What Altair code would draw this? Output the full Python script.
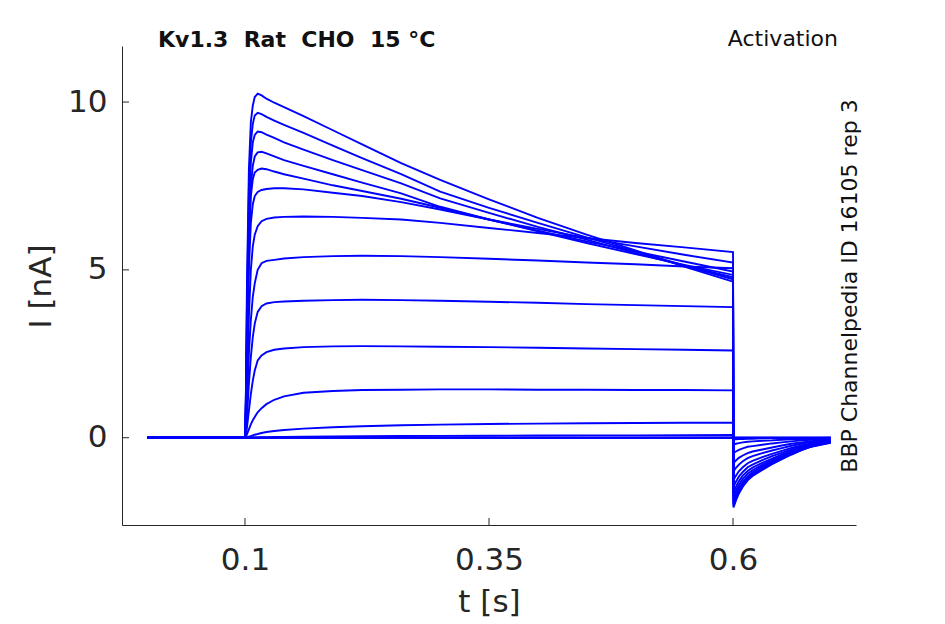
import altair as alt
import pandas as pd

# time points (s)
T = [0.0,
     0.1, 0.101, 0.102, 0.104, 0.106, 0.108, 0.11, 0.113, 0.117, 0.122, 0.13, 0.14,
     0.16, 0.19, 0.22, 0.26, 0.3, 0.35, 0.4, 0.45, 0.5, 0.55, 0.6,
     0.6005, 0.603, 0.606, 0.61, 0.615, 0.62, 0.63, 0.64, 0.65, 0.66, 0.67, 0.68, 0.69, 0.7]

# current traces (nA), one per voltage step
tr_a = [0, 0, 1.5, 4.5, 8.0, 9.4, 9.9, 10.15, 10.25, 10.2, 10.1, 9.98, 9.85, 9.58, 9.16, 8.74, 8.18, 7.68, 7.1, 6.55, 6.05, 5.58, 5.1, 4.65,
        -2.08, -1.87, -1.66, -1.46, -1.27, -1.14, -0.96, -0.79, -0.64, -0.5, -0.37, -0.27, -0.21, -0.15]
tr_b = [0, 0, 1.3, 4.0, 7.4, 8.8, 9.35, 9.6, 9.68, 9.64, 9.56, 9.45, 9.32, 9.08, 8.7, 8.33, 7.85, 7.33, 6.85, 6.4, 5.97, 5.55, 5.13, 4.72,
        -2.03, -1.83, -1.62, -1.42, -1.24, -1.12, -0.93, -0.77, -0.63, -0.49, -0.37, -0.26, -0.2, -0.14]
tr_c = [0, 0, 1.1, 3.5, 6.8, 8.2, 8.8, 9.02, 9.12, 9.1, 9.03, 8.93, 8.8, 8.58, 8.27, 7.97, 7.58, 7.13, 6.7, 6.28, 5.9, 5.5, 5.13, 4.78,
        -1.97, -1.77, -1.58, -1.38, -1.2, -1.08, -0.91, -0.75, -0.61, -0.47, -0.35, -0.26, -0.2, -0.14]
tr_d = [0, 0, 0.9, 3.0, 6.0, 7.5, 8.1, 8.38, 8.5, 8.52, 8.47, 8.38, 8.27, 8.1, 7.85, 7.6, 7.28, 6.88, 6.5, 6.15, 5.8, 5.47, 5.15, 4.85,
        -1.88, -1.69, -1.5, -1.32, -1.15, -1.03, -0.86, -0.71, -0.58, -0.45, -0.34, -0.24, -0.19, -0.13]
tr_e = [0, 0, 0.8, 2.8, 5.8, 7.2, 7.7, 7.9, 7.98, 8.02, 8.0, 7.93, 7.85, 7.72, 7.52, 7.35, 7.12, 6.85, 6.5, 6.17, 5.85, 5.55, 5.25, 4.95,
        -1.76, -1.58, -1.41, -1.23, -1.07, -0.97, -0.81, -0.67, -0.55, -0.42, -0.32, -0.23, -0.18, -0.12]
tr_f = [0, 0, 0.6, 2.2, 5.0, 6.4, 6.95, 7.2, 7.32, 7.38, 7.41, 7.43, 7.43, 7.4, 7.3, 7.2, 7.02, 6.8, 6.5, 6.22, 5.95, 5.7, 5.45, 5.22,
        -1.62, -1.46, -1.3, -1.13, -0.99, -0.89, -0.75, -0.62, -0.5, -0.39, -0.29, -0.21, -0.16, -0.11]
tr_g = [0, 0, 0.4, 1.5, 3.6, 5.0, 5.7, 6.05, 6.3, 6.45, 6.52, 6.56, 6.58, 6.59, 6.58, 6.55, 6.5, 6.4, 6.25, 6.1, 5.95, 5.8, 5.67, 5.53,
        -1.45, -1.31, -1.16, -1.02, -0.88, -0.8, -0.67, -0.55, -0.45, -0.35, -0.26, -0.19, -0.15, -0.1]
tr_h = [0, 0, 0.3, 1.0, 2.5, 3.5, 4.2, 4.6, 5.0, 5.2, 5.27, 5.3, 5.34, 5.38, 5.41, 5.42, 5.41, 5.38, 5.33, 5.28, 5.22, 5.17, 5.1, 5.05,
        -1.25, -1.13, -1.0, -0.88, -0.76, -0.69, -0.58, -0.48, -0.39, -0.3, -0.23, -0.16, -0.13, -0.09]
tr_i = [0, 0, 0.2, 0.6, 1.6, 2.4, 3.0, 3.4, 3.75, 3.92, 4.0, 4.04, 4.06, 4.08, 4.1, 4.11, 4.1, 4.08, 4.05, 4.02, 3.98, 3.95, 3.92, 3.89,
        -1.0, -0.9, -0.8, -0.7, -0.61, -0.55, -0.46, -0.38, -0.31, -0.24, -0.18, -0.13, -0.1, -0.07]
tr_j = [0, 0, 0.1, 0.3, 0.8, 1.3, 1.7, 2.0, 2.3, 2.45, 2.55, 2.62, 2.66, 2.7, 2.72, 2.73, 2.72, 2.71, 2.7, 2.68, 2.66, 2.64, 2.62, 2.6,
        -0.75, -0.68, -0.6, -0.53, -0.46, -0.41, -0.35, -0.29, -0.23, -0.18, -0.14, -0.1, -0.08, -0.05]
tr_k = [0, 0, 0.03, 0.1, 0.25, 0.4, 0.52, 0.62, 0.76, 0.88, 1.0, 1.13, 1.23, 1.34, 1.39, 1.42, 1.43, 1.44, 1.44, 1.43, 1.43, 1.42, 1.42, 1.41,
        -0.45, -0.41, -0.36, -0.32, -0.27, -0.25, -0.21, -0.17, -0.14, -0.11, -0.08, -0.06, -0.05, -0.03]
tr_l = [0, 0, 0.005, 0.01, 0.03, 0.05, 0.07, 0.09, 0.11, 0.14, 0.17, 0.2, 0.23, 0.27, 0.31, 0.34, 0.37, 0.39, 0.41, 0.42, 0.43, 0.44, 0.445, 0.45,
        -0.2, -0.18, -0.16, -0.14, -0.12, -0.11, -0.09, -0.08, -0.06, -0.05, -0.04, -0.03, -0.02, -0.01]
tr_m = [0, 0, 0, 0, 0.002, 0.004, 0.006, 0.008, 0.01, 0.012, 0.015, 0.02, 0.025, 0.03, 0.04, 0.045, 0.05, 0.055, 0.06, 0.065, 0.07, 0.07, 0.075, 0.08,
        -0.05, -0.05, -0.04, -0.04, -0.03, -0.03, -0.02, -0.02, -0.02, -0.01, -0.01, -0.01, -0.01, 0]
tr_n = [0] * 38
tr_o = [0] * 38
tr_p = [0] * 38

TRACES = [tr_p, tr_o, tr_n, tr_m, tr_l, tr_k, tr_j, tr_i, tr_h, tr_g, tr_f, tr_e, tr_d, tr_c, tr_b, tr_a]

X_TICKS = [0.1, 0.35, 0.6]
Y_TICKS = [0, 5, 10]

TITLE = "Kv1.3\u00a0 Rat\u00a0 CHO\u00a0 15 °C"
PROTOCOL = "Activation"
SOURCE = "BBP Channelpedia ID 16105 rep 3"

rows = []
for k, tr in enumerate(TRACES):
    for i, (t, v) in enumerate(zip(T, tr)):
        rows.append({"trace": k, "idx": i, "t": t, "I": v})
df = pd.DataFrame(rows)

W, H = 734, 479
TXT = "#262626"
FONT = "DejaVu Sans"

xscale = alt.Scale(domain=[-0.026, 0.726], nice=False, zero=False)
yscale = alt.Scale(domain=[-2.6, 11.67], nice=False, zero=False)

lines = alt.Chart(df).mark_line(color="#0000ff", strokeWidth=1.9, clip=True).encode(
    x=alt.X("t:Q", scale=xscale,
            axis=alt.Axis(values=X_TICKS, format="~g", title="t [s]", grid=False,
                          ticks=False, labelPadding=20, labelFontSize=31, labelFont=FONT,
                          labelColor=TXT, titleFontSize=31, titleFont=FONT, titleColor=TXT,
                          titleFontWeight="normal", titleBaseline="alphabetic", titleY=86,
                          domainColor=TXT, labelFlush=False)),
    y=alt.Y("I:Q", scale=yscale,
            axis=alt.Axis(values=Y_TICKS, title="I [nA]", grid=False,
                          ticks=False, labelPadding=15, labelFontSize=31, labelFont=FONT,
                          labelColor=TXT, titleFontSize=31, titleFont=FONT, titleColor=TXT,
                          titleFontWeight="normal", titleBaseline="alphabetic",
                          titleX=-72, titleY=240, titleAngle=270,
                          domainColor=TXT, labelFlush=False)),
    detail="trace:N",
    order="idx:Q",
)

xt = alt.Chart(pd.DataFrame({"v": X_TICKS})).mark_rule(color=TXT, strokeWidth=1).encode(
    x=alt.X("v:Q", scale=xscale), y=alt.value(H), y2=alt.value(H - 7))
yt = alt.Chart(pd.DataFrame({"v": Y_TICKS})).mark_rule(color=TXT, strokeWidth=1).encode(
    y=alt.Y("v:Q", scale=yscale), x=alt.value(0), x2=alt.value(7))

ann = pd.DataFrame({"a": [TITLE], "b": [PROTOCOL], "c": [SOURCE]})
t1 = alt.Chart(ann).mark_text(font=FONT, fontSize=22, fontWeight="bold", color="#111",
                              align="left", baseline="alphabetic").encode(
    text="a:N", x=alt.value(36), y=alt.value(1))
t2 = alt.Chart(ann).mark_text(font=FONT, fontSize=22, color="#111",
                              align="right", baseline="alphabetic").encode(
    text="b:N", x=alt.value(716), y=alt.value(0))
t3 = alt.Chart(ann).mark_text(font=FONT, fontSize=22, color="#111", angle=270,
                              align="center", baseline="middle").encode(
    text="c:N", x=alt.value(728), y=alt.value(240))

chart = alt.layer(lines, xt, yt, t1, t2, t3).properties(
    width=W, height=H,
    autosize=alt.AutoSizeParams(type="none"),
    padding={"left": 114, "top": 38, "right": 70, "bottom": 98},
    background="white",
).configure_view(stroke=None)

chart.save("out.html", embed_options={"renderer": "svg", "actions": False})
